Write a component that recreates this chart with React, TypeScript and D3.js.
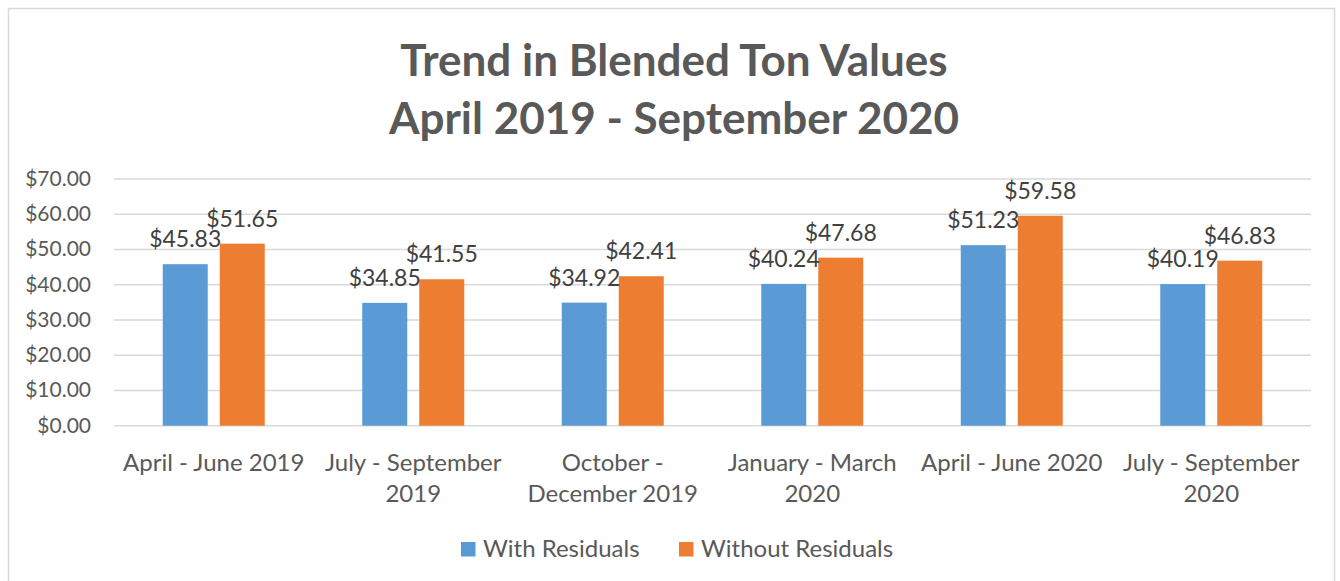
import React from "react";
import * as d3 from "d3";

const categories: string[][] = [
  ["April - June 2019"],
  ["July - September", "2019"],
  ["October -", "December 2019"],
  ["January - March", "2020"],
  ["April - June 2020"],
  ["July - September", "2020"],
];
const seriesNames = ["With Residuals", "Without Residuals"];
const withResiduals = [45.83, 34.85, 34.92, 40.24, 51.23, 40.19];
const withoutResiduals = [51.65, 41.55, 42.41, 47.68, 59.58, 46.83];
const yTicks = [0, 10, 20, 30, 40, 50, 60, 70];
const titleLines = ["Trend in Blended Ton Values", "April 2019 - September 2020"];
const colors = ["#5B9BD5", "#ED7D31"];

const FONT = "Lato, 'Open Sans', sans-serif";

export default function App() {
  const W = 1340, H = 581;
  const left = 114, right = 1311, top = 179, bottom = 425.7;
  const x0 = d3.scaleBand<number>().domain(d3.range(categories.length)).range([left, right]).padding(0);
  const bw = x0.bandwidth();
  const x1 = d3.scaleBand<string>().domain(seriesNames)
    .range([(bw - 102) / 2, (bw + 102) / 2]).paddingInner(12 / 57).paddingOuter(0);
  const y = d3.scaleLinear().domain([0, 70]).range([bottom, top]);
  const fmt = (v: number) => "$" + d3.format(".2f")(v);
  const data = [withResiduals, withoutResiduals];

  return (
    <svg width={W} height={H} style={{ position: "absolute", left: 0, top: 0, fontFamily: FONT }}>
      <rect x={0} y={0} width={W} height={H} fill="#fff" />
      <rect x={8.5} y={8.5} width={1326} height={580} fill="none" stroke="#D9D9D9" strokeWidth={1.5} />
      {titleLines.map((t, i) => (
        <text key={i} x={674} y={76 + i * 58} textAnchor="middle" fontSize={44} fontWeight={700} fill="#595959">{t}</text>
      ))}
      {yTicks.map((t) => (
        <g key={t}>
          <line x1={left} x2={right} y1={y(t)} y2={y(t)} stroke="#D9D9D9" strokeWidth={1.5} />
          <text x={91} y={y(t) + 7} textAnchor="end" fontSize={21} fill="#595959">{fmt(t)}</text>
        </g>
      ))}
      {categories.map((c, i) => (
        <g key={i} transform={`translate(${x0(i)},0)`}>
          {seriesNames.map((s, j) => {
            const v = data[j][i];
            const bx = x1(s)!;
            return (
              <g key={s}>
                <rect x={bx} y={y(v)} width={x1.bandwidth()} height={bottom - y(v)} fill={colors[j]} />
              </g>
            );
          })}
          {c.map((line, k) => (
            <text key={k} x={bw / 2} y={471 + k * 31} textAnchor="middle" fontSize={24} fill="#595959">{line}</text>
          ))}
        </g>
      ))}
      {categories.map((c, i) => (
        <g key={"l" + i} transform={`translate(${x0(i)},0)`}>
          {seriesNames.map((s, j) => {
            const v = data[j][i];
            const bx = x1(s)!;
            return (
              <text key={s} x={bx + x1.bandwidth() / 2} y={y(v) - 17} textAnchor="middle" fontSize={23} fill="#404040">{fmt(v)}</text>
            );
          })}
        </g>
      ))}
      <g>
        <rect x={461} y={542} width={14.5} height={14.5} fill={colors[0]} />
        <text x={483} y={557} fontSize={24} fill="#595959">{seriesNames[0]}</text>
        <rect x={679} y={542} width={14.5} height={14.5} fill={colors[1]} />
        <text x={701} y={557} fontSize={24} fill="#595959">{seriesNames[1]}</text>
      </g>
    </svg>
  );
}
